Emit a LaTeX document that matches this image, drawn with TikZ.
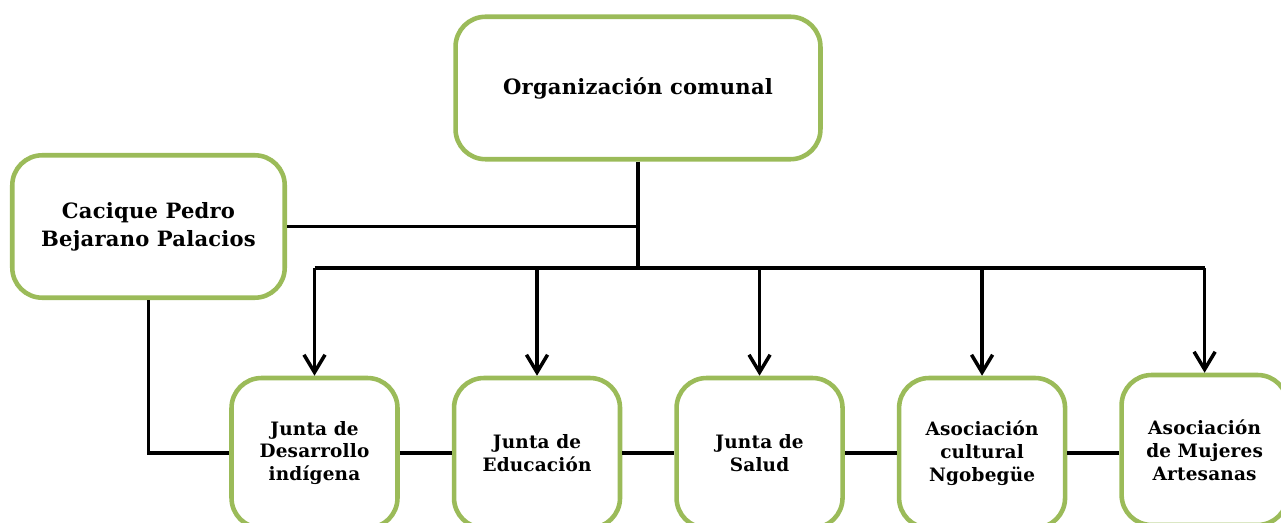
\documentclass[tikz,border=0pt]{standalone}
\usepackage{fontspec}
\setmainfont{DejaVu Serif}[LetterSpace=1]
\usetikzlibrary{positioning,arrows.meta}
\definecolor{boxgreen}{RGB}{155,187,89}

\begin{document}
\begin{tikzpicture}[x=0.02cm,y=-0.02cm,
	box/.style={draw=boxgreen,line width=2.6pt,rounded corners=0.6cm,fill=white,
		align=center,inner sep=0pt,font=\bfseries\fontsize{12}{16}\selectfont},
	unit/.style={box,minimum width=3.32cm,minimum height=3cm,
		font=\bfseries\fontsize{10.5}{13}\selectfont},
	link/.style={line width=2pt},
	node distance=1.04cm]
	\clip (0,0) rectangle (1281,523);
	\node[box,minimum width=7.3cm,minimum height=2.85cm](org) at (638,88){Organización comunal};
	\node[box,minimum width=5.45cm,minimum height=2.85cm](cacique) at (148.5,226.5){Cacique Pedro\\Bejarano Palacios};
	\node[unit](j1) at (314.5,453){Junta de\\Desarrollo\\indígena};
	\node[unit](j2)[right = of j1]{Junta de\\Educación};
	\node[unit](j3)[right = of j2]{Junta de\\Salud};
	\node[unit](j4)[right = of j3]{Asociación\\cultural\\Ngobegüe};
	\node[unit](j5)[right = of j4,yshift=0.06cm]{Asociación\\de Mujeres\\Artesanas};
	\coordinate(bus) at (638,268);
	\draw[link](org) -- (bus);
	\draw[link](cacique) -- (cacique -| bus);
	\draw[link](bus -| j1) -- (bus);
	\draw[link,line width=2.6pt](bus) -- (bus -| j5);
	\foreach \n in {j1,j2,j3,j4,j5}
		\draw[link,-{Straight Barb[length=10pt,width=12pt]}](bus -| \n) -- (\n);
	\draw[link](cacique) |- (j1);
	\draw[link](j1) -- (j2);
	\draw[link](j2) -- (j3);
	\draw[link](j3) -- (j4);
	\draw[link](j4) -- (j4 -| j5.west);
\end{tikzpicture}
\end{document}
